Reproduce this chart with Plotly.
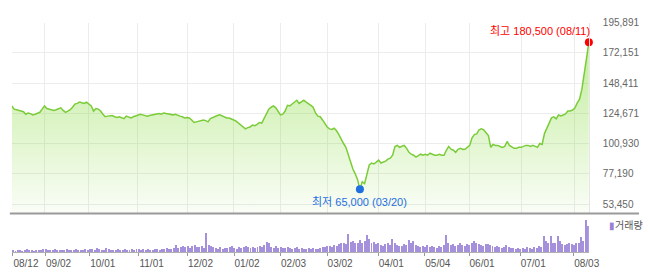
import pandas as pd
import plotly.graph_objects as go

# ---- categories: KRX trading days 2019-08-12 .. 2020-08-11 ----
holidays = ["2019-08-15", "2019-09-12", "2019-09-13", "2019-10-03", "2019-10-09",
            "2019-12-25", "2019-12-31", "2020-01-01", "2020-01-24", "2020-01-27",
            "2020-04-15", "2020-04-30", "2020-05-01", "2020-05-05"]
days = [d for d in pd.bdate_range("2019-08-12", "2020-08-11")
        if d.strftime("%Y-%m-%d") not in holidays]
dates = [d.strftime("%Y-%m-%d") for d in days]

# ---- closing prices (KRW) ----
close = [
    130500, 128000, 127500, 127000, 126500, 126000, 124000, 125000, 124500, 123500,
    124000, 125000, 125500, 128000, 130500, 128500, 128000, 127500, 127000, 127500,
    128000, 129000, 127000, 125500, 126500, 127500, 129500, 132000, 132500, 133500,
    133000, 132500, 133500, 132000, 130500, 126500, 128500, 128000, 126500, 124000,
    122000, 122500, 122500, 123000, 122000, 121500, 122000, 121000, 120500, 122500,
    121500, 121000, 122000, 122500, 123500, 124000, 123500, 123000, 122500, 123000,
    123500, 124000, 124000, 124500, 124000, 125000, 124500, 124000, 124000, 123500,
    124000, 123000, 122500, 122000, 121000, 121500, 121000, 119500, 117500, 118000,
    118500, 119000, 119500, 119000, 118000, 120500, 121500, 122500, 123000, 123500,
    122500, 122000, 121000, 121000, 120500, 119500, 118500, 117000, 115500, 113500,
    112500, 113500, 114000, 115500, 115000, 116000, 117500, 117000, 120500, 124000,
    128000, 129500, 130500, 129000, 126500, 123500, 124000, 126500, 131000, 130500,
    132000, 133500, 135000, 132500, 133500, 135000, 133500, 132500, 131000, 129500,
    125000, 122500, 122000, 119500, 116500, 114000, 112500, 112000, 113000, 111000,
    108000, 104000, 101000, 98000, 91800, 86400, 81000, 77200, 72600, 65000,
    71000, 69500, 76500, 84100, 85600, 84900, 86400, 88000, 85700, 86400,
    87200, 88700, 89500, 91800, 98700, 99500, 98000, 98800, 99500, 97200,
    94100, 92600, 91800, 90300, 91800, 92600, 91800, 92600, 91800, 93400,
    92600, 91800, 91800, 92600, 91800, 91800, 95700, 98700, 96500,
    95700, 94100, 96500, 97200, 96400, 96500, 98000, 99500, 105500, 108000,
    108500, 111800, 112500, 111800, 109500, 107200, 98000, 100300, 99500, 99500,
    98700, 98000, 98700, 102600, 99500, 98000, 97200, 97200, 98000, 98000,
    98700, 99500, 99500, 98700, 99500, 98700, 98000, 101000, 100300, 108800,
    112600, 117300, 121100, 121900, 120400, 123400, 122700, 123400, 124200, 126500,
    126500, 127300, 128800, 132700, 135800, 143500, 154300, 168100, 180500,
]

# ---- volume (unit: 10,000 shares) ----
volume = [
    2, 1, 2, 2, 1, 2, 3, 2, 2, 1, 2, 2, 2, 3, 3,
    2, 2, 2, 3, 2, 2, 2, 2, 3, 2, 2, 2, 3, 2, 2, 2, 3, 2, 3,
    3, 2, 4, 3, 2, 2, 4, 3, 2, 2, 2, 3, 2, 2, 3, 2, 2, 3, 2, 3, 3,
    2, 3, 2, 3, 2, 2, 3, 3, 2, 3, 3, 4, 3, 3, 4, 7, 4, 5, 6, 5, 6,
    4, 6, 7, 5, 5, 6, 4, 20, 7, 6, 5, 4, 3, 5, 3, 4, 4, 5, 6, 4,
    3, 5, 4, 5, 6, 5, 4, 5, 4, 5, 6, 5, 7,
    11, 10,
    5, 4, 6, 4, 5, 4, 4, 5, 4, 3, 4, 5, 3, 4, 3, 3, 4, 3, 4, 3, 3, 4, 5, 5, 6,
    6, 5, 7, 6, 8, 9, 10, 8, 19, 11, 12, 10, 9, 13, 10, 12, 18, 14, 9, 11, 8, 10,
    7, 6, 8, 9, 7, 14, 10, 7, 6, 6, 8, 7, 13, 9, 12, 7, 6, 5, 6, 5,
    7, 5, 6, 5, 4, 6, 5, 7, 18, 9, 7, 8, 6, 7, 9, 7, 6, 8,
    7, 9, 12, 10, 8, 7, 6, 8, 8, 7, 6, 5, 6, 5, 4, 5, 7, 5, 4, 4, 3, 4,
    3, 4, 3, 5, 4, 3, 5, 4, 6,
    5, 17, 12, 9, 17, 10, 9, 17, 12, 8, 7, 8, 10, 8, 7, 9, 10, 16, 12, 33, 27,
]

# ---- axis ticks ----
tick_dates = ["2019-08-12", "2019-09-02", "2019-10-01", "2019-11-01", "2019-12-02",
              "2020-01-02", "2020-02-03", "2020-03-02", "2020-04-01", "2020-05-04",
              "2020-06-01", "2020-07-01", "2020-08-03"]
tick_text = ["08/12", "09/02", "10/01", "11/01", "12/02", "01/02", "02/03",
             "03/02", "04/01", "05/04", "06/01", "07/01", "08/03"]
price_ticks = [53450, 77190, 100930, 124671, 148411, 172151, 195891]
price_tick_text = ["53,450", "77,190", "100,930", "124,671", "148,411", "172,151", "195,891"]

n = min(len(dates), len(close), len(volume))
dates, close, volume = dates[:n], close[:n], volume[:n]
xi = list(range(n))
tickvals = [dates.index(d) for d in tick_dates]

hi_i = max(xi, key=lambda i: close[i])
lo_i = min(xi, key=lambda i: close[i])

W, H = 650, 272
def px(v):
    return v / W
def py(v):
    return (H - v) / H

Y_BOTTOM = 46356
FONT = "Liberation Sans, Arial, Noto Sans CJK KR, sans-serif"

fig = go.Figure()

fig.add_trace(go.Scatter(
    x=xi, y=close, mode="lines",
    line=dict(color="#7acc38", width=1.5),
    fill="tozeroy",
    fillgradient=dict(type="vertical",
                      colorscale=[[0, "rgba(125,215,45,0.03)"], [1, "rgba(125,215,45,0.52)"]],
                      start=Y_BOTTOM, stop=price_ticks[-1]),
    customdata=dates, hovertemplate="%{customdata}<br>%{y:,}<extra></extra>",
    xaxis="x", yaxis="y", showlegend=False,
))

fig.add_trace(go.Scatter(
    x=[hi_i], y=[close[hi_i]], mode="markers",
    marker=dict(color="#ff0000", size=8), cliponaxis=False,
    xaxis="x", yaxis="y", showlegend=False, hoverinfo="skip",
))
fig.add_trace(go.Scatter(
    x=[lo_i], y=[close[lo_i]], mode="markers",
    marker=dict(color="#1f6fe0", size=8), cliponaxis=False,
    xaxis="x", yaxis="y", showlegend=False, hoverinfo="skip",
))

fig.add_trace(go.Bar(
    x=xi, y=volume, marker=dict(color="#a590dc", line=dict(width=0)),
    width=0.42, xaxis="x2", yaxis="y2", showlegend=False,
    customdata=dates, hovertemplate="%{customdata}<br>%{y}<extra></extra>",
))

def md(d):
    return d[5:7] + "/" + d[8:10]

fig.update_layout(
    width=W, height=H,
    margin=dict(l=0, r=0, t=0, b=0),
    paper_bgcolor="white", plot_bgcolor="white",
    font=dict(family=FONT, size=10, color="#666"),
    bargap=0,
    xaxis=dict(domain=[px(12), px(599)], range=[0, n - 1],
               tickvals=tickvals, showticklabels=False, showgrid=True,
               gridcolor="#ececec", gridwidth=1, zeroline=False, showline=False,
               ticks=""),
    yaxis=dict(domain=[py(212), py(18)], range=[Y_BOTTOM, price_ticks[-1]],
               side="right", tickvals=price_ticks, ticktext=price_tick_text,
               showgrid=True, gridcolor="#ececec", zeroline=False,
               showline=True, linecolor="#e6e6e6", linewidth=1,
               ticks="", ticklabelstandoff=11,
               tickfont=dict(size=10, color="#666", family=FONT)),
    xaxis2=dict(domain=[px(12), px(599)], range=[-0.5, n - 0.5], anchor="y2",
                tickvals=[t for t in tickvals], ticktext=tick_text, showgrid=False,
                zeroline=False, showline=True, linecolor="#b0b0b0", linewidth=1,
                ticks="outside", ticklen=3, tickcolor="#999", tickwidth=1,
                ticklabelshift=13, ticklabelstandoff=-1,
                tickfont=dict(size=10, color="#555", family=FONT)),
    yaxis2=dict(domain=[py(252), py(215)], range=[0, 37], anchor="x2",
                showticklabels=False, showgrid=False, zeroline=False, ticks=""),
    shapes=[dict(type="line", xref="paper", yref="paper",
                 x0=px(10), x1=1, y0=py(212.5), y1=py(212.5),
                 line=dict(color="#9a9a9a", width=2))],
    annotations=[
        dict(x=hi_i, y=close[hi_i], xref="x", yref="y",
             text=f"최고 {close[hi_i]:,} ({md(dates[hi_i])})",
             showarrow=False, xanchor="right", yanchor="middle",
             xshift=3, yshift=11,
             font=dict(size=11, color="#ff0000", family=FONT)),
        dict(x=lo_i, y=close[lo_i], xref="x", yref="y",
             text=f"최저 {close[lo_i]:,} ({md(dates[lo_i])})",
             showarrow=False, xanchor="center", yanchor="middle",
             yshift=-13,
             font=dict(size=11, color="#1f6fe0", family=FONT)),
        dict(x=px(617), y=py(225), xref="paper", yref="paper",
             text="<span style='color:#9a82d6'>▮</span>거래량",
             showarrow=False, xanchor="left", yanchor="middle",
             font=dict(size=10, color="#555", family=FONT)),
    ],
)

fig.write_html("out.html")
